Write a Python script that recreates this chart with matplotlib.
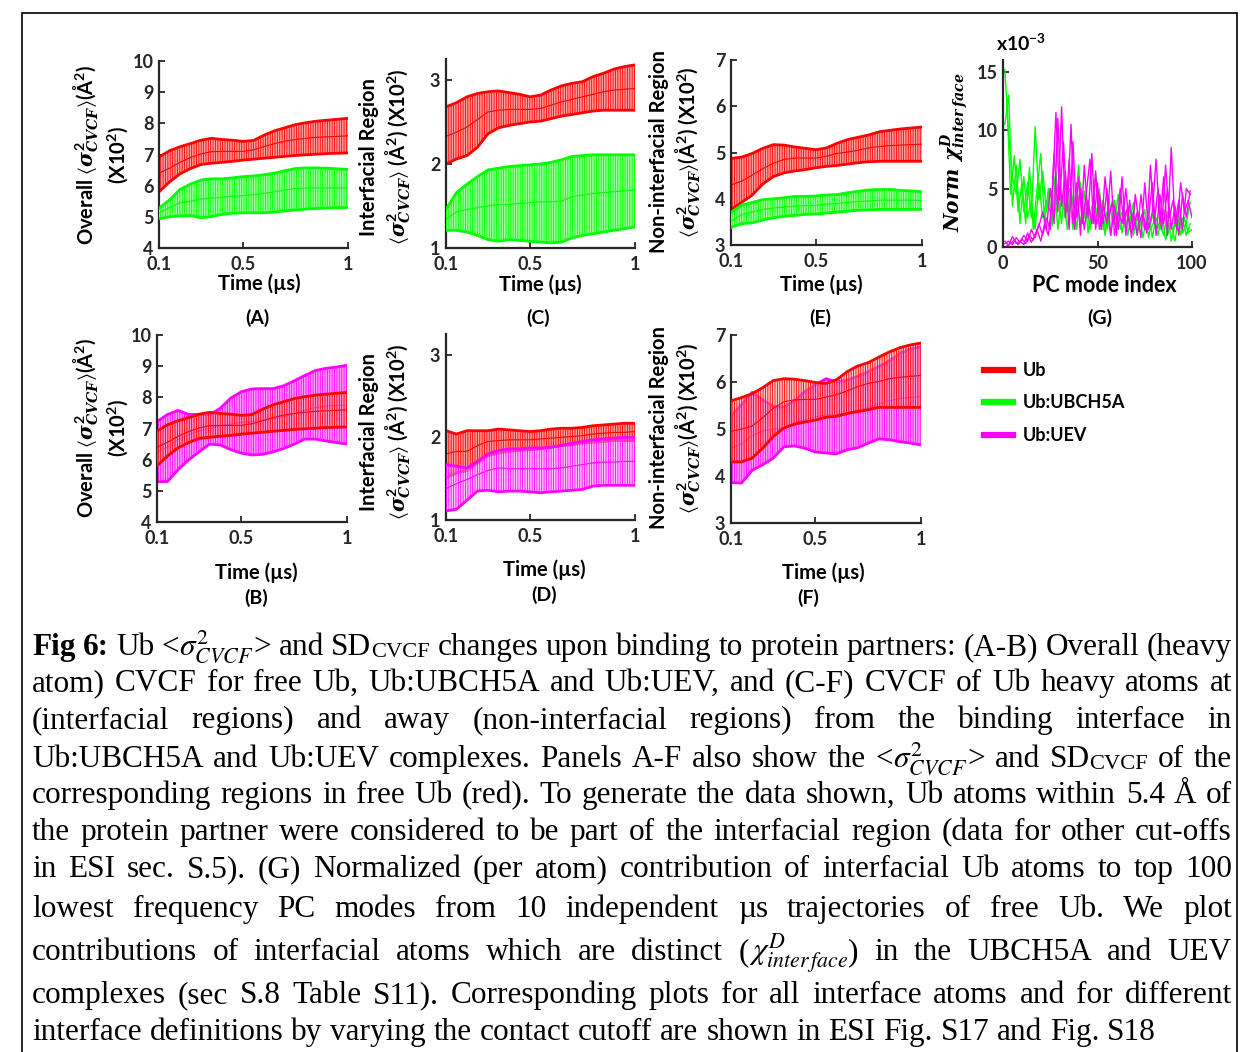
import re
import numpy as np
import matplotlib
matplotlib.use('Agg')
import matplotlib.pyplot as plt
from matplotlib.lines import Line2D

W, H = 1240, 1052
plt.rcParams.update({
    'font.family': ['Lato', 'DejaVu Sans'],
    'font.weight': 'normal',
    'mathtext.fontset': 'custom',
    'mathtext.rm': 'Lato:bold',
    'mathtext.bf': 'Lato:bold',
    'mathtext.it': 'DejaVu Serif:italic:bold',
    'mathtext.fallback': 'stix',
    'hatch.linewidth': 0.6,
    'axes.linewidth': 1.5,
})

# ---------------- data ----------------
time_us = [0.10, 0.15, 0.20, 0.25, 0.30, 0.35, 0.40, 0.45, 0.50, 0.55,
           0.60, 0.65, 0.70, 0.75, 0.80, 0.85, 0.90, 0.95, 1.00]

# Overall (A, B) - free Ub
ovr_ub_hi = [6.92, 7.12, 7.25, 7.35, 7.46, 7.52, 7.48, 7.46, 7.42, 7.45, 7.62, 7.76, 7.86, 7.96, 8.02, 8.07, 8.10, 8.13, 8.16]
ovr_ub_lo = [5.80, 6.12, 6.38, 6.55, 6.68, 6.72, 6.75, 6.78, 6.82, 6.85, 6.88, 6.91, 6.94, 6.97, 6.99, 7.01, 7.03, 7.04, 7.05]
ovr_ub_mu = [6.40, 6.56, 6.75, 6.90, 7.02, 7.09, 7.10, 7.10, 7.10, 7.15, 7.25, 7.35, 7.43, 7.48, 7.52, 7.55, 7.57, 7.58, 7.60]
# Overall - Ub:UBCH5A
ovr_ubch_hi = [5.28, 5.54, 5.88, 6.05, 6.18, 6.22, 6.22, 6.25, 6.29, 6.31, 6.35, 6.40, 6.48, 6.55, 6.57, 6.57, 6.56, 6.54, 6.52]
ovr_ubch_lo = [4.94, 5.00, 5.03, 5.04, 4.97, 5.01, 5.08, 5.12, 5.13, 5.13, 5.13, 5.15, 5.19, 5.22, 5.25, 5.27, 5.28, 5.29, 5.30]
ovr_ubch_mu = [5.12, 5.30, 5.45, 5.50, 5.57, 5.60, 5.63, 5.66, 5.68, 5.71, 5.75, 5.80, 5.86, 5.91, 5.92, 5.93, 5.93, 5.93, 5.93]
# Overall - Ub:UEV
ovr_uev_hi = [7.22, 7.45, 7.58, 7.45, 7.45, 7.44, 7.65, 7.98, 8.18, 8.27, 8.28, 8.28, 8.37, 8.53, 8.70, 8.86, 8.93, 8.97, 9.03]
ovr_uev_lo = [5.29, 5.30, 5.68, 5.99, 6.26, 6.50, 6.47, 6.32, 6.21, 6.15, 6.17, 6.25, 6.36, 6.50, 6.66, 6.66, 6.60, 6.55, 6.50]
ovr_uev_mu = [6.25, 6.40, 6.64, 6.80, 6.92, 7.00, 7.08, 7.14, 7.20, 7.22, 7.25, 7.31, 7.38, 7.48, 7.59, 7.67, 7.72, 7.74, 7.75]

# Interfacial (C) - UBCH5A interface
intC_ub_hi = [2.68, 2.73, 2.80, 2.84, 2.86, 2.87, 2.85, 2.83, 2.80, 2.82, 2.88, 2.93, 2.96, 2.98, 3.04, 3.08, 3.13, 3.16, 3.18]
intC_ub_lo = [2.00, 2.06, 2.10, 2.20, 2.36, 2.43, 2.46, 2.48, 2.50, 2.51, 2.54, 2.57, 2.59, 2.61, 2.63, 2.64, 2.64, 2.64, 2.64]
intC_ub_mu = [2.33, 2.38, 2.44, 2.53, 2.62, 2.64, 2.65, 2.65, 2.65, 2.66, 2.70, 2.74, 2.77, 2.80, 2.83, 2.86, 2.88, 2.89, 2.90]
intC_cx_hi = [1.46, 1.66, 1.76, 1.85, 1.93, 1.95, 1.97, 1.98, 1.99, 2.00, 2.02, 2.05, 2.09, 2.10, 2.11, 2.11, 2.11, 2.11, 2.11]
intC_cx_lo = [1.21, 1.21, 1.19, 1.15, 1.10, 1.08, 1.10, 1.09, 1.08, 1.07, 1.06, 1.07, 1.12, 1.15, 1.17, 1.19, 1.21, 1.23, 1.25]
intC_cx_mu = [1.34, 1.43, 1.46, 1.48, 1.50, 1.52, 1.52, 1.53, 1.54, 1.55, 1.55, 1.56, 1.61, 1.63, 1.65, 1.66, 1.67, 1.68, 1.69]

# Interfacial (D) - UEV interface
intD_ub_hi = [2.08, 2.04, 2.08, 2.08, 2.08, 2.10, 2.09, 2.08, 2.07, 2.08, 2.10, 2.11, 2.11, 2.12, 2.14, 2.15, 2.16, 2.17, 2.17]
intD_ub_lo = [1.51, 1.57, 1.60, 1.69, 1.78, 1.81, 1.83, 1.84, 1.85, 1.86, 1.88, 1.90, 1.91, 1.93, 1.94, 1.95, 1.96, 1.96, 1.96]
intD_ub_mu = [1.80, 1.83, 1.83, 1.90, 1.95, 1.96, 1.97, 1.97, 1.97, 1.98, 1.99, 2.00, 2.01, 2.02, 2.04, 2.05, 2.06, 2.06, 2.07]
intD_cx_hi = [1.67, 1.65, 1.63, 1.71, 1.80, 1.84, 1.86, 1.86, 1.87, 1.87, 1.88, 1.90, 1.93, 1.95, 1.97, 1.98, 1.99, 2.00, 2.00]
intD_cx_lo = [1.11, 1.13, 1.24, 1.35, 1.36, 1.34, 1.35, 1.35, 1.34, 1.33, 1.34, 1.35, 1.36, 1.37, 1.41, 1.42, 1.42, 1.42, 1.42]
intD_cx_mu = [1.38, 1.44, 1.49, 1.55, 1.60, 1.63, 1.62, 1.62, 1.62, 1.62, 1.62, 1.63, 1.65, 1.67, 1.69, 1.70, 1.70, 1.71, 1.71]

# Non-interfacial (E) - UBCH5A
nonE_ub_hi = [4.87, 4.90, 4.98, 5.09, 5.17, 5.16, 5.12, 5.09, 5.06, 5.10, 5.20, 5.28, 5.33, 5.38, 5.45, 5.48, 5.51, 5.53, 5.55]
nonE_ub_lo = [3.77, 3.92, 4.08, 4.32, 4.48, 4.56, 4.60, 4.63, 4.67, 4.70, 4.72, 4.75, 4.78, 4.80, 4.81, 4.81, 4.81, 4.81, 4.81]
nonE_ub_mu = [4.30, 4.38, 4.51, 4.65, 4.77, 4.85, 4.88, 4.88, 4.88, 4.92, 4.98, 5.01, 5.05, 5.10, 5.13, 5.15, 5.16, 5.17, 5.18]
nonE_cx_hi = [3.70, 3.86, 3.92, 3.98, 4.00, 4.02, 4.05, 4.05, 4.06, 4.08, 4.09, 4.13, 4.16, 4.19, 4.20, 4.20, 4.18, 4.17, 4.15]
nonE_cx_lo = [3.38, 3.46, 3.48, 3.54, 3.59, 3.62, 3.64, 3.66, 3.67, 3.69, 3.71, 3.73, 3.75, 3.76, 3.77, 3.77, 3.77, 3.77, 3.77]
nonE_cx_mu = [3.52, 3.65, 3.72, 3.77, 3.80, 3.82, 3.84, 3.85, 3.86, 3.88, 3.90, 3.92, 3.94, 3.95, 3.97, 3.97, 3.97, 3.97, 3.96]

# Non-interfacial (F) - UEV
nonF_ub_hi = [5.60, 5.67, 5.75, 5.88, 6.03, 6.07, 6.06, 6.03, 5.99, 5.97, 6.05, 6.22, 6.34, 6.41, 6.53, 6.64, 6.73, 6.79, 6.83]
nonF_ub_lo = [4.30, 4.30, 4.38, 4.59, 4.84, 5.02, 5.10, 5.15, 5.19, 5.25, 5.27, 5.33, 5.37, 5.41, 5.46, 5.46, 5.46, 5.46, 5.46]
nonF_ub_mu = [4.95, 5.00, 5.06, 5.24, 5.44, 5.58, 5.62, 5.63, 5.63, 5.68, 5.73, 5.81, 5.90, 5.97, 6.01, 6.07, 6.10, 6.12, 6.14]
nonF_cx_hi = [5.28, 5.52, 5.78, 5.62, 5.48, 5.47, 5.59, 5.80, 5.94, 6.07, 6.00, 6.04, 6.12, 6.22, 6.33, 6.45, 6.61, 6.70, 6.75]
nonF_cx_lo = [3.86, 3.85, 4.12, 4.24, 4.38, 4.62, 4.64, 4.59, 4.51, 4.49, 4.47, 4.56, 4.60, 4.70, 4.79, 4.77, 4.73, 4.70, 4.66]
nonF_cx_mu = [4.59, 4.68, 4.86, 4.96, 5.00, 5.02, 5.13, 5.20, 5.26, 5.30, 5.30, 5.34, 5.40, 5.46, 5.53, 5.60, 5.65, 5.67, 5.69]

# Panel G: normalized contribution (x1e-3) vs PC mode index
modes_odd = list(range(1, 100, 2))
modes_even = list(range(2, 101, 2))
g_ubch_1 = [15.2, 9.5, 6.0, 4.5, 7.5, 3.0, 5.5, 2.5, 10.3, 4.0, 6.5, 3.0, 5.0, 2.5, 4.5, 2.0, 6.0, 3.0, 4.0, 1.5,
            5.5, 2.5, 3.5, 2.0, 6.2, 2.5, 4.0, 1.5, 3.5, 2.0, 4.5, 1.2, 3.0, 2.0, 3.8, 1.0, 2.5, 1.5, 3.0, 0.8,
            2.5, 1.5, 3.2, 1.0, 2.0, 0.5, 2.8, 1.2, 2.0, 3.8]
g_ubch_2 = [12.8, 4.5, 7.8, 3.0, 5.5, 2.0, 6.8, 1.5, 5.0, 8.0, 2.0, 5.0, 1.8, 6.5, 3.0, 4.5, 1.5, 5.0, 2.5, 7.0,
            2.0, 4.0, 1.5, 4.5, 2.0, 3.5, 1.0, 4.2, 2.0, 3.0, 1.5, 3.5, 1.0, 2.8, 1.8, 3.0, 0.8, 2.5, 1.5, 2.2,
            1.0, 3.0, 0.6, 2.0, 1.5, 3.0, 1.0, 2.5, 1.2, 1.5]
g_ubch_3 = [10.5, 13.0, 3.5, 7.0, 2.0, 6.0, 2.5, 4.0, 1.5, 5.5, 2.5, 4.0, 3.0, 6.0, 1.5, 4.5, 2.5, 5.0, 1.5, 4.0,
            2.0, 4.8, 1.2, 3.5, 2.0, 5.0, 1.5, 3.0, 1.0, 4.0, 2.0, 3.0, 1.5, 3.5, 1.0, 2.5, 1.8, 3.2, 0.8, 2.8,
            1.5, 2.0, 1.0, 3.0, 0.5, 2.0, 1.2, 2.5, 1.0, 2.0]
g_uev_1 = [0.3, 0.5, 0.2, 0.8, 0.4, 1.0, 0.5, 1.5, 0.8, 2.0, 1.0, 2.5, 1.5, 8.0, 3.0, 12.0, 2.5, 7.5, 2.0, 5.5,
           1.0, 7.0, 2.5, 8.0, 1.5, 4.5, 2.0, 5.0, 1.0, 3.5, 1.5, 6.0, 1.0, 4.0, 1.5, 3.0, 0.8, 5.5, 1.5, 3.0,
           7.5, 2.0, 6.0, 1.0, 8.5, 2.0, 4.0, 1.5, 5.0, 4.5]
g_uev_2 = [0.1, 0.3, 0.6, 0.2, 0.7, 0.3, 1.0, 0.6, 1.5, 0.5, 2.0, 1.0, 4.0, 11.5, 4.0, 9.0, 3.0, 10.5, 1.5, 6.0,
           2.0, 4.5, 7.5, 2.0, 5.5, 1.5, 6.0, 2.5, 4.0, 1.0, 5.0, 2.0, 3.5, 0.8, 4.5, 2.0, 3.0, 1.2, 7.0, 2.0,
           5.0, 1.5, 7.0, 2.5, 4.0, 1.5, 5.5, 3.0, 4.0, 2.5]
g_uev_3 = [0.5, 0.1, 0.9, 0.3, 0.5, 0.2, 1.2, 0.4, 1.0, 1.8, 3.0, 1.5, 5.0, 2.0, 11.0, 3.5, 6.5, 1.5, 9.0, 2.5,
           5.0, 1.5, 4.0, 2.0, 6.5, 1.5, 3.5, 2.0, 6.5, 1.0, 3.0, 2.0, 5.0, 1.5, 3.0, 1.0, 4.5, 1.5, 2.5, 5.5,
           1.0, 4.5, 2.0, 5.0, 1.5, 3.5, 1.0, 4.5, 2.5, 4.8]

legend_labels = ['Ub', 'Ub:UBCH5A', 'Ub:UEV']

RED, GREEN, MAG = '#ff0000', '#00ff00', '#ff00ff'
FACE = {RED: '#ff9c9c', GREEN: '#99ff99', MAG: '#ff99ff'}
DARK = '#262626'

fig = plt.figure(figsize=(W / 100, H / 100), dpi=100)


def add_ax(l, r, t, b):
    return fig.add_axes([l / W, 1 - b / H, (r - l) / W, (b - t) / H])


def style_ax(ax):
    for s in ('top', 'right'):
        ax.spines[s].set_visible(False)
    for s in ('left', 'bottom'):
        ax.spines[s].set_color(DARK)
        ax.spines[s].set_linewidth(1.6)
    ax.tick_params(direction='in', length=4, width=1.3, labelsize=13,
                   colors=DARK, pad=4)
    ax.tick_params(axis='x', pad=6)
    for lab in ax.get_xticklabels() + ax.get_yticklabels():
        lab.set_fontweight('bold')


def band(ax, lo, hi, mu, color, alpha=1.0, z=2):
    face = matplotlib.colors.to_rgba(FACE[color], alpha)
    ax.fill_between(time_us, lo, hi, facecolor=face, edgecolor=color,
                    hatch='|||||||', linewidth=0, zorder=z)
    ax.plot(time_us, hi, color=color, lw=2.0, zorder=z + 0.1)
    ax.plot(time_us, lo, color=color, lw=2.0, zorder=z + 0.1)
    ax.plot(time_us, mu, color=color, lw=0.8, zorder=z + 0.2)


def set_labels(ax, l, r, t, b, ylab, ylab_xy, xlab, xlab_xy, xfs=14.5):
    ax.set_ylabel(ylab, fontsize=14.5, fontweight='bold', rotation=90,
                  ha='center', va='center', ma='center', linespacing=1.2)
    ax.yaxis.set_label_coords((ylab_xy[0] - l) / (r - l), (b - ylab_xy[1]) / (b - t))
    ax.set_xlabel(xlab, fontsize=xfs, fontweight='bold', va='center', ha='center')
    ax.xaxis.set_label_coords((xlab_xy[0] - l) / (r - l), (b - xlab_xy[1]) / (b - t))


YL_OVR = 'Overall $\\langle\\sigma^2_{CVCF}\\rangle$(Å$^2$)\n(X10$^2$)'
YL_INT = 'Interfacial Region\n$\\langle\\sigma^2_{CVCF}\\rangle$ (Å$^2$) (X10$^2$)'
YL_NON = 'Non-interfacial Region\n$\\langle\\sigma^2_{CVCF}\\rangle$(Å$^2$) (X10$^2$)'
XL_T = 'Time (µs)'

panels = [
    # key, box(l,r,t,b), ylim, yticks, bands, ylabel, ylab_xy, xlab_xy, letter_xy
    ('A', (159, 348, 61, 248), (4, 10), range(4, 11),
     [(ovr_ub_lo, ovr_ub_hi, ovr_ub_mu, RED, 1.0, 2), (ovr_ubch_lo, ovr_ubch_hi, ovr_ubch_mu, GREEN, 1.0, 3)],
     YL_OVR, (101, 155), (259, 284), (257, 318)),
    ('C', (446, 635, 59, 248), (1, 3.25), [1, 2, 3],
     [(intC_ub_lo, intC_ub_hi, intC_ub_mu, RED, 1.0, 2), (intC_cx_lo, intC_cx_hi, intC_cx_mu, GREEN, 1.0, 3)],
     YL_INT, (386, 157), (540, 285), (538, 318)),
    ('E', (731, 922, 60, 245), (3, 7), range(3, 8),
     [(nonE_ub_lo, nonE_ub_hi, nonE_ub_mu, RED, 1.0, 2), (nonE_cx_lo, nonE_cx_hi, nonE_cx_mu, GREEN, 1.0, 3)],
     YL_NON, (676, 152), (821, 285), (820, 318)),
    ('B', (157, 347, 335, 522), (4, 10), range(4, 11),
     [(ovr_uev_lo, ovr_uev_hi, ovr_uev_mu, MAG, 1.0, 2), (ovr_ub_lo, ovr_ub_hi, ovr_ub_mu, RED, 0.55, 3)],
     YL_OVR, (101, 428), (256, 573), (256, 598)),
    ('D', (446, 635, 334, 520), (1, 3.25), [1, 2, 3],
     [(intD_ub_lo, intD_ub_hi, intD_ub_mu, RED, 1.0, 2), (intD_cx_lo, intD_cx_hi, intD_cx_mu, MAG, 0.6, 3)],
     YL_INT, (386, 432), (544, 570), (544, 595)),
    ('F', (731, 921, 335, 523), (3, 7), range(3, 8),
     [(nonF_cx_lo, nonF_cx_hi, nonF_cx_mu, MAG, 1.0, 2), (nonF_ub_lo, nonF_ub_hi, nonF_ub_mu, RED, 0.55, 3)],
     YL_NON, (676, 428), (823, 573), (808, 598)),
]

for key, (l, r, t, b), ylim, yticks, bands, ylab, ylxy, xlxy, lxy in panels:
    ax = add_ax(l, r, t, b)
    for lo, hi, mu, c, a, z in bands:
        band(ax, lo, hi, mu, c, a, z)
    ax.set_xlim(0.1, 1.0)
    ax.set_ylim(*ylim)
    ax.set_xticks([0.1, 0.5, 1.0])
    ax.set_xticklabels(['0.1', '0.5', '1'])
    ax.set_yticks(list(yticks))
    style_ax(ax)
    set_labels(ax, l, r, t, b, ylab, ylxy, XL_T, xlxy)
    fig.text(lxy[0] / W, 1 - lxy[1] / H, f'({key})', ha='center', va='center',
             fontsize=14, fontweight='bold')

# ---------------- panel G ----------------
l, r, t, b = 1003, 1192, 60, 247
axg = add_ax(l, r, t, b)
for xs, ys in [(modes_odd, g_ubch_1), (modes_even, g_ubch_2), (modes_odd, g_ubch_3)]:
    axg.plot(xs, ys, color=GREEN, lw=1.0, zorder=2)
for xs, ys in [(modes_odd, g_uev_1), (modes_even, g_uev_2), (modes_odd, g_uev_3)]:
    axg.plot(xs, ys, color=MAG, lw=1.0, zorder=3)
axg.set_xlim(0, 100)
axg.set_ylim(0, 16)
axg.set_xticks([0, 50, 100])
axg.set_yticks([0, 5, 10, 15])
style_ax(axg)
set_labels(axg, l, r, t, b, '$Norm\\ \\chi^D_{inter\\,face}$', (955, 152),
           'PC mode index', (1104, 285), xfs=15.5)
axg.text((996 - l) / (r - l), (b - 43) / (b - t), 'x10$^{-3}$', transform=axg.transAxes,
         ha='left', va='center', fontsize=14, fontweight='bold')
fig.text(1100 / W, 1 - 318 / H, '(G)', ha='center', va='center', fontsize=14, fontweight='bold')

# ---------------- legend ----------------
handles = [Line2D([], [], color=c, lw=4.5) for c in (RED, GREEN, MAG)]
fig.legend(handles, legend_labels, loc='center left', bbox_to_anchor=(984 / W, 1 - 403 / H),
           frameon=False, prop=dict(family='Lato', weight='bold', size=13),
           handlelength=1.6, handletextpad=0.55, labelspacing=0.85, borderpad=0, borderaxespad=0)

# ---------------- border ----------------
fig.add_artist(plt.Rectangle((22 / W, -0.02), (1237 - 22) / W, 1 - 13 / H + 0.02, fill=False,
                             lw=1.2, edgecolor='black', transform=fig.transFigure))

# ---------------- caption ----------------
FS = 22.5
cap_lines = [
    '[Fig] [6:] Ub <{SIG}> and SD{CVCF} changes upon binding to protein partners: (A-B) Overall (heavy',
    'atom) CVCF for free Ub, Ub:UBCH5A and Ub:UEV, and (C-F) CVCF of Ub heavy atoms at',
    '(interfacial regions) and away (non-interfacial regions) from the binding interface in',
    'Ub:UBCH5A and Ub:UEV complexes. Panels A-F also show the <{SIG}> and SD{CVCF} of the',
    'corresponding regions in free Ub (red). To generate the data shown, Ub atoms within 5.4 Å of',
    'the protein partner were considered to be part of the interfacial region (data for other cut-offs',
    'in ESI sec. S.5). (G) Normalized (per atom) contribution of interfacial Ub atoms to top 100',
    'lowest frequency PC modes from 10 independent µs trajectories of free Ub. We plot',
    'contributions of interfacial atoms which are distinct ({CHI}) in the UBCH5A and UEV',
    'complexes (sec S.8 Table S11). Corresponding plots for all interface atoms and for different',
    'interface definitions by varying the contact cutoff are shown in ESI Fig. S17 and Fig. S18',
]
cap_base = [655, 691, 728, 767, 803, 840, 877, 917, 960, 1003, 1040]
CAP_L, CAP_R = 32, 1232


def parse_token(tok):
    runs = []
    for piece in re.split(r'(\{SIG\}|\{CVCF\}|\{CHI\}|\[[^\]]*\])', tok):
        if not piece:
            continue
        if piece == '{SIG}':
            runs.append((r'$\sigma^2_{CVCF}$', 'm'))
        elif piece == '{CHI}':
            runs.append((r'$\chi^D_{inter\,face}$', 'm'))
        elif piece == '{CVCF}':
            runs.append(('CVCF', 's'))
        elif piece.startswith('['):
            runs.append((piece[1:-1], 'b'))
        else:
            runs.append((piece, 'n'))
    return runs


def run_style(k):
    d = dict(family='Liberation Serif', fontsize=FS, fontweight='normal', color='black',
             va='baseline', ha='left')
    if k == 'b':
        d['fontweight'] = 'bold'
    elif k == 's':
        d['fontsize'] = FS * 0.72
    elif k == 'm':
        d['math_fontfamily'] = 'stix'
    return d


renderer = fig.canvas.get_renderer()
probe1 = fig.text(0, 0, 'a a', **run_style('n'))
probe2 = fig.text(0, 0, 'aa', **run_style('n'))
space_w = probe1.get_window_extent(renderer).width - probe2.get_window_extent(renderer).width
probe1.remove()
probe2.remove()

for i, (line, base) in enumerate(zip(cap_lines, cap_base)):
    tokens = [parse_token(w) for w in line.split(' ')]
    placed = []
    widths = []
    for tok in tokens:
        arts = []
        tw = 0.0
        for s, k in tok:
            txt = fig.text(0, 1 - base / H, s, **run_style(k))
            w = txt.get_window_extent(renderer).width
            arts.append((txt, w, k))
            tw += w
        placed.append(arts)
        widths.append(tw)
    last = (i == len(cap_lines) - 1)
    gap = space_w if last else (CAP_R - CAP_L - sum(widths)) / (len(tokens) - 1)
    x = CAP_L
    for arts in placed:
        for txt, w, k in arts:
            txt.set_x(x / W)
            if k == 's':
                txt.set_y(1 - (base + 2) / H)
            x += w
        x += gap

fig.savefig('out.png', dpi=100)
